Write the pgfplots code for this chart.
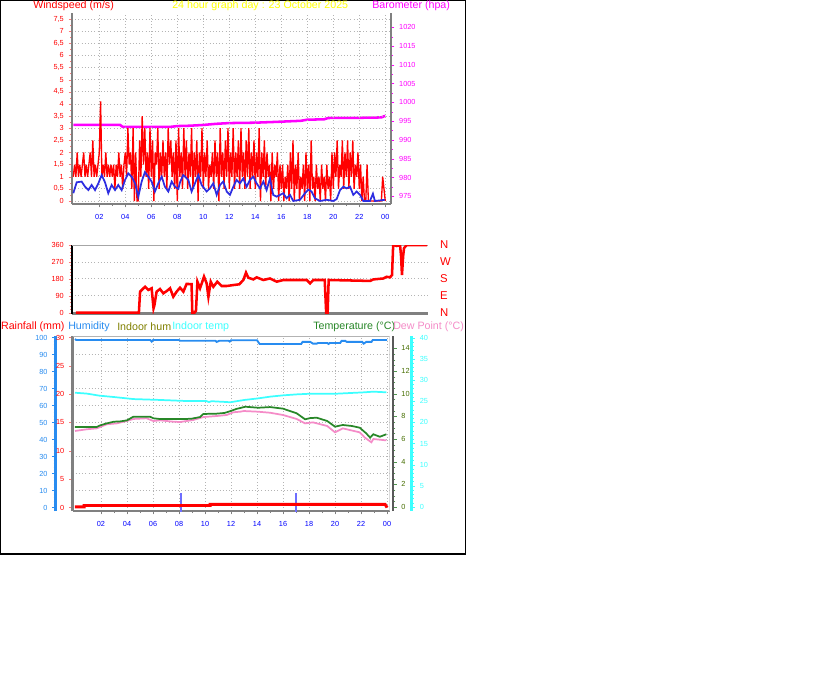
\documentclass[border=0pt]{standalone}
\usepackage{pgfplots}
\pgfplotsset{compat=1.18}
\usepackage{fontspec}
\setmainfont{Liberation Sans}

\definecolor{axgray}{RGB}{128,128,128}
\definecolor{gridgray}{RGB}{180,180,180}
\definecolor{tickpink}{RGB}{255,120,120}
\definecolor{avgblue}{RGB}{45,45,225}
\definecolor{humblue}{RGB}{40,140,240}
\definecolor{inhum}{RGB}{128,128,0}
\definecolor{intemp}{RGB}{60,255,255}
\definecolor{tempgreen}{RGB}{40,135,40}
\definecolor{templab}{RGB}{70,110,0}
\definecolor{dewpink}{RGB}{245,140,200}
\definecolor{rainbar}{RGB}{110,110,255}
\definecolor{tickgreen}{RGB}{80,150,80}
\definecolor{baro}{RGB}{255,0,255}
\definecolor{ttl}{RGB}{255,255,0}
\definecolor{pure red}{RGB}{255,0,0}
\definecolor{pure blue}{RGB}{0,0,255}

\newcommand{\tk}{\fontsize{5.5}{6.6}\selectfont}
\newcommand{\hd}{\fontsize{8}{9.6}\selectfont}
\newcommand{\dr}{\fontsize{8.5}{10}\selectfont}

\pgfplotsset{
  base/.style={scale only axis, anchor=south west,
    tick label style={font=\tk},
    /pgf/number format/assume math mode=true,
    /pgf/number format/1000 sep={},
    tick align=outside, major tick length=2.6pt, minor tick length=1.5pt},
  hours/.style={xtick={2,4,6,8,10,12,14,16,18,20,22,24},
    xticklabels={02,04,06,08,10,12,14,16,18,20,22,00},
    minor x tick num=1,
    xticklabel style={text=pure blue, yshift=-1.5pt},
    xtick style={axgray}},
  dots/.style={major grid style={gridgray, dotted, line width=0.6pt}},
}

\begin{document}
\begin{tikzpicture}
\path[use as bounding box, fill=white] (0,0) rectangle (612pt,-512.25pt);
\draw[black, line width=0.9pt] (0.4pt,-0.4pt) rectangle (349.1pt,-415.5pt);

% titles, top panel
\node[anchor=west, inner sep=0, font=\hd, text=pure red] at (24.75pt,-4.5pt) {Windspeed (m/s)};
\node[anchor=west, inner sep=0, font=\hd, text=ttl] at (129pt,-4.5pt) {24 hour graph day : 23 October 2025};
\node[anchor=west, inner sep=0, font=\hd, text=baro] at (279pt,-4.5pt) {Barometer (hpa)};

% legend row, bottom panel
\node[anchor=west, inner sep=0, font=\hd, text=pure red] at (0.6pt,-245.25pt) {Rainfall (mm)};
\node[anchor=west, inner sep=0, font=\hd, text=humblue] at (51pt,-245.25pt) {Humidity};
\node[anchor=west, inner sep=0, font=\hd, text=inhum] at (87.75pt,-245.25pt) {Indoor hum};
\node[anchor=west, inner sep=0, font=\hd, text=intemp] at (129pt,-245.25pt) {Indoor temp};
\node[anchor=west, inner sep=0, font=\hd, text=tempgreen] at (234.75pt,-245.25pt) {Temperature (°C)};
\node[anchor=west, inner sep=0, font=\hd, text=dewpink] at (294.75pt,-245.25pt) {Dew Point (°C)};

% ---------- barometer
\begin{axis}[base, at={(54pt,-153pt)}, width=239.25pt, height=143.25pt,
  xmin=-0.1, xmax=24.44, ymin=972.95, ymax=1023.8,
  axis x line=none, axis y line*=right,
  y axis line style={axgray, line width=2pt},
  ytick={975,980,985,990,995,1000,1005,1010,1015,1020}, minor y tick num=1,
  yticklabel style={text=baro}, ytick style={baro}]
\addplot[baro, line width=1.9pt] coordinates {
  (0,994.0)(3.6,994.0)(3.8,993.5)(7.5,993.5)(8,993.7)(9,993.8)(10,994.0)(11,994.3)
  (12,994.5)(14,994.6)(15.5,994.8)(16.5,994.95)(17.5,995.1)(18,995.4)(19.3,995.5)
  (19.6,995.85)(22,995.9)(23.7,996.0)(23.9,996.3)(24,996.4)};
\end{axis}

% ---------- windspeed
\begin{axis}[base, hours, dots, at={(54pt,-153pt)}, width=239.25pt, height=143.25pt,
  xmin=-0.1, xmax=24.44, ymin=-0.124, ymax=7.746,
  axis x line*=bottom, axis y line*=left,
  axis line style={axgray, line width=2.2pt},
  ytick={0,0.5,1,1.5,2,2.5,3,3.5,4,4.5,5,5.5,6,6.5,7,7.5}, minor y tick num=1,
  /pgf/number format/use comma,
  yticklabel style={text=pure red}, ytick style={tickpink},
  grid=major]
% gust
\addplot[pure red, line width=1pt, line join=bevel] coordinates {
 (0.0,1.0)(0.1,1.5)(0.2,1.0)(0.3,2.0)(0.4,1.0)(0.5,1.5)(0.6,1.0)(0.7,1.5)(0.8,2.0)(0.9,1.0)
 (1.0,1.5)(1.1,1.0)(1.2,1.5)(1.3,2.0)(1.4,1.0)(1.5,2.5)(1.6,1.0)(1.7,1.5)(1.8,1.0)(1.9,1.5)
 (2.0,2.0)(2.1,4.1)(2.2,1.0)(2.3,1.5)(2.4,1.0)(2.5,2.0)(2.6,1.0)(2.7,1.5)(2.8,1.0)(2.9,1.5)
 (3.0,1.0)(3.1,1.5)(3.2,0.5)(3.3,1.5)(3.4,1.0)(3.5,2.0)(3.6,1.0)(3.7,1.5)(3.8,0.5)(3.9,1.5)
 (4.0,2.0)(4.1,1.0)(4.2,3.0)(4.3,1.5)(4.4,2.0)(4.5,0.5)(4.6,3.0)(4.7,0.0)(4.8,2.0)(4.9,0.0)
 (5.0,0.0)(5.1,2.5)(5.2,1.0)(5.3,3.5)(5.4,1.5)(5.5,3.0)(5.6,1.0)(5.7,2.0)(5.8,0.5)(5.9,3.0)
 (6.0,1.0)(6.1,2.5)(6.2,0.0)(6.3,2.0)(6.4,1.5)(6.5,3.0)(6.6,0.5)(6.7,2.0)(6.8,1.0)(6.9,2.5)
 (7.0,1.0)(7.1,2.0)(7.2,0.5)(7.3,3.0)(7.4,1.5)(7.5,2.5)(7.6,1.0)(7.7,2.0)(7.8,0.5)(7.9,2.5)
 (8.0,0.0)(8.1,3.0)(8.2,1.0)(8.3,2.0)(8.4,0.5)(8.5,3.0)(8.6,1.0)(8.7,2.5)(8.8,0.5)(8.9,2.0)
 (9.0,1.0)(9.1,3.0)(9.2,0.5)(9.3,2.0)(9.4,1.0)(9.5,2.5)(9.6,0.0)(9.7,2.0)(9.8,1.0)(9.9,3.0)
 (10.0,0.5)(10.1,2.0)(10.2,1.0)(10.3,2.5)(10.4,0.5)(10.5,1.5)(10.6,1.0)(10.7,2.0)(10.8,0.5)(10.9,2.5)
 (11.0,1.0)(11.1,2.0)(11.2,0.0)(11.3,3.0)(11.4,1.0)(11.5,2.0)(11.6,0.5)(11.7,2.5)(11.8,1.0)(11.9,3.0)
 (12.0,0.5)(12.1,2.0)(12.2,1.0)(12.3,3.0)(12.4,0.5)(12.5,2.0)(12.6,1.0)(12.7,2.5)(12.8,0.5)(12.9,3.0)
 (13.0,1.0)(13.1,2.0)(13.2,0.5)(13.3,2.5)(13.4,1.0)(13.5,3.0)(13.6,0.5)(13.7,2.0)(13.8,1.0)(13.9,2.5)
 (14.0,0.5)(14.1,2.0)(14.2,1.0)(14.3,3.0)(14.4,0.0)(14.5,2.0)(14.6,1.0)(14.7,2.5)(14.8,0.5)(14.9,2.0)
 (15.0,1.0)(15.1,1.5)(15.2,0.0)(15.3,2.0)(15.4,0.5)(15.5,1.5)(15.6,1.0)(15.7,2.0)(15.8,0.0)(15.9,1.5)
 (16.0,0.5)(16.1,1.5)(16.2,0.0)(16.3,1.0)(16.4,0.5)(16.5,1.5)(16.6,0.0)(16.7,2.0)(16.8,0.5)(16.9,2.5)
 (17.0,0.0)(17.1,1.5)(17.2,0.5)(17.3,2.0)(17.4,0.0)(17.5,1.0)(17.6,0.5)(17.7,1.5)(17.8,0.0)(17.9,2.0)
 (18.0,0.5)(18.1,1.5)(18.2,0.0)(18.3,2.5)(18.4,0.5)(18.5,1.0)(18.6,0.0)(18.7,1.5)(18.8,0.5)(18.9,1.0)
 (19.0,0.0)(19.1,1.5)(19.2,0.5)(19.3,1.0)(19.4,0.0)(19.5,1.5)(19.6,0.5)(19.7,1.0)(19.8,0.0)(19.9,2.0)
 (20.0,0.5)(20.1,2.0)(20.2,1.0)(20.3,2.5)(20.4,0.5)(20.5,1.5)(20.6,1.0)(20.7,2.5)(20.8,0.5)(20.9,2.0)
 (21.0,1.0)(21.1,2.5)(21.2,0.5)(21.3,2.0)(21.4,1.0)(21.5,2.5)(21.6,0.5)(21.7,1.5)(21.8,1.0)(21.9,2.0)
 (22.0,0.5)(22.1,1.5)(22.2,0.0)(22.3,1.0)(22.4,0.0)(22.5,0.0)(22.6,1.5)(22.7,0.0)(22.8,0.0)(22.9,0.0)
 (23.0,0.0)(23.1,0.0)(23.2,0.0)(23.3,0.0)(23.4,0.0)(23.5,0.0)(23.6,0.0)(23.7,0.0)(23.8,1.0)(23.9,0.5)(24.0,0.0)};
% average
\addplot[avgblue, line width=1.3pt] coordinates {
 (0.0,0.32)(0.26,0.77)(0.64,0.80)(0.90,0.59)(1.16,0.45)(1.41,0.66)(1.67,0.45)(1.93,0.73)
 (2.18,1.07)(2.44,0.77)(2.69,0.32)(2.95,0.66)(3.21,0.45)(3.46,0.66)(3.72,0.45)(3.98,0.87)
 (4.23,1.14)(4.49,1.00)(4.75,0.73)(5.0,0.18)(5.26,0.80)(5.51,1.19)(5.77,1.00)(6.03,0.80)
 (6.28,0.39)(6.54,0.73)(6.8,1.00)(7.05,0.59)(7.31,0.39)(7.57,0.80)(7.82,0.59)(8.08,0.5)
 (8.21,0.77)(8.46,1.07)(8.85,0.87)(9.1,0.39)(9.36,0.73)(9.62,1.07)(9.87,0.66)(10.26,0.39)
 (10.51,0.52)(10.77,0.73)(11.03,0.25)(11.29,0.66)(11.54,0.80)(11.8,0.39)(12.05,0.25)
 (12.31,0.59)(12.56,0.87)(12.82,0.73)(13.08,0.93)(13.33,0.59)(13.59,0.87)(13.85,1.00)
 (14.1,0.73)(14.36,0.52)(14.62,0.80)(14.87,0.45)(15.13,0.93)(15.38,0.25)(15.64,0.18)
 (15.9,0.25)(16.15,0.32)(16.41,0.11)(16.67,0.25)(16.92,0.0)(17.44,0.05)(17.82,0.32)
 (18.08,0.47)(18.33,0.39)(18.59,0.11)(18.98,0.0)(19.49,0.05)(20.0,0.0)(20.26,0.08)
 (20.52,0.45)(20.77,0.59)(21.03,0.52)(21.29,0.59)(21.54,0.25)(21.8,0.39)(22.06,0.25)
 (22.31,0.0)(22.82,0.0)(23.05,0.3)(23.2,0.0)(23.98,0.05)};
\end{axis}

% ---------- wind direction
\begin{axis}[base, dots, at={(54pt,-235.125pt)}, width=267pt, height=51.375pt,
  xmin=-0.273, xmax=24.06, ymin=-4.3, ymax=360,
  axis x line*=bottom, axis y line*=left,
  x axis line style={axgray, line width=2.2pt},
  y axis line style={black, line width=2.2pt},
  xtick=\empty,
  ytick={0,90,180,270,360}, minor y tick num=4,
  yticklabel style={text=pure red}, ytick style={tickpink},
  ymajorgrids]
\draw[axgray!70, line width=0.75pt] (rel axis cs:0,1) -- (rel axis cs:1,1);
\addplot[pure red, line width=1.9pt] coordinates {
 (0,0)(4.3,0)(4.38,112)(4.72,138)(4.94,121)(5.17,130)(5.3,23)(5.36,40)(5.51,112)
 (5.74,126)(5.97,103)(6.2,115)(6.43,130)(6.65,85)(6.88,112)(7.11,133)(7.34,112)
 (7.56,153)(7.9,152)(7.95,0)(8.1,0)(8.2,10)(8.3,165)(8.48,130)(8.75,192)(8.93,156)
 (9.05,85)(9.21,165)(9.39,138)(9.66,165)(9.96,142)(10.3,142)(10.75,147)(11.16,151)
 (11.44,174)(11.62,213)(11.78,186)(12.12,177)(12.35,188)(12.8,174)(13.26,182)
 (13.72,165)(14.17,174)(15.77,174)(16.0,156)(16.22,174)(17.0,174)(17.1,0)(17.2,0)
 (17.27,174)(20.1,169)(20.32,177)(21.0,182)(21.23,191)(21.46,188)(21.6,200)
 (21.68,360)(21.92,355)(22.15,360)(22.22,300)(22.28,200)(22.36,300)(22.42,343)
 (22.6,360)(24,360)};
\end{axis}
\begin{axis}[base, at={(54pt,-235.125pt)}, width=267pt, height=51.375pt,
  xmin=-0.273, xmax=24.06, ymin=-4.3, ymax=360,
  axis x line=none, axis y line*=right, y axis line style={draw=none},
  ytick={0,90,180,270,360}, yticklabels={N,E,S,W,N},
  ytick style={draw=none},
  yticklabel style={font=\dr, text=pure red, xshift=3pt}]
\addplot[draw=none] coordinates {(0,0)};
\end{axis}

% ---------- bottom panel: grid
\begin{axis}[base, dots, at={(54.375pt,-383.25pt)}, width=237.75pt, height=131.25pt,
  xmin=-0.192, xmax=24.19, ymin=-2.06, ymax=100.88,
  axis line style={draw=none}, tick style={draw=none},
  xtick={2,4,6,8,10,12,14,16,18,20,22,24}, ytick={10,20,30,40,50,60,70,80,90},
  xticklabels={}, yticklabels={}, grid=major]
\addplot[draw=none] coordinates {(0,0)};
\end{axis}

% humidity
\begin{axis}[base, at={(41.775pt,-383.25pt)}, width=250.35pt, height=131.25pt,
  xmin=-1.485, xmax=24.19, ymin=-2.06, ymax=100.88,
  axis x line=none, axis y line*=left,
  y axis line style={humblue, line width=2.2pt},
  ytick={0,10,20,30,40,50,60,70,80,90,100}, minor y tick num=4,
  yticklabel style={text=humblue}, ytick style={humblue}]
\addplot[humblue, line width=1.4pt] coordinates {
 (0,99.1)(0.1,98.5)(5.8,98.5)(5.9,97.6)(6.0,98.5)(8,98.5)(8.1,98.1)(10.8,98.1)
 (10.9,97.4)(11.1,98.1)(11.8,98.1)(11.9,97.6)(12.0,98.4)(14.0,98.4)(14.2,96.2)
 (17.4,96.2)(17.5,97.4)(18.1,97.4)(18.3,96.4)(18.6,96.4)(18.7,96.8)(19.4,96.8)
 (19.5,96.2)(19.6,96.8)(20.4,96.8)(20.5,98.0)(20.8,98.0)(20.9,97.4)(22.1,97.4)
 (22.2,96.4)(22.4,97.4)(22.8,97.4)(22.9,98.5)(24,98.5)};
\end{axis}

% outside temperature and dew point
\begin{axis}[base, at={(54.375pt,-383.25pt)}, width=240.6pt, height=131.25pt,
  xmin=-0.192, xmax=24.485, ymin=-0.353, ymax=15.09,
  axis x line=none, axis y line*=right,
  y axis line style={black!65, line width=1.5pt},
  ytick={0,2,4,6,8,10,12,14}, minor y tick num=3,
  yticklabel style={text=templab}, ytick style={tickgreen}]
\addplot[dewpink, line width=1.3pt] coordinates {
 (0.0,6.71)(0.9,6.86)(1.67,6.94)(2.44,7.3)(3.2,7.38)(3.97,7.59)(4.49,7.77)(5.51,7.83)
 (6.03,7.59)(6.54,7.65)(7.56,7.53)(8.08,7.5)(9.1,7.68)(9.87,7.94)(10.9,8.03)(11.67,8.12)
 (12.18,8.36)(12.69,8.41)(13,8.47)(14.1,8.41)(15,8.32)(16,8.12)(17.05,7.77)(17.7,7.38)
 (18.3,7.47)(19.4,7.15)(20,6.59)(20.6,6.94)(21.9,6.59)(22.3,6.12)(22.8,5.71)(22.95,6.0)
 (23.95,5.88)};
\addplot[tempgreen, line width=1.3pt] coordinates {
 (0,7.06)(1.67,7.06)(1.92,7.2)(2.44,7.38)(3.0,7.53)(3.46,7.55)(4.0,7.65)(4.49,7.97)
 (5.77,7.97)(6.03,7.83)(6.5,7.77)(8.59,7.77)(9.0,7.8)(9.62,7.94)(9.87,8.21)(10.9,8.24)
 (11.5,8.3)(11.92,8.45)(12.4,8.65)(13.1,8.85)(14.1,8.76)(15,8.82)(16,8.68)(17.05,8.27)
 (17.7,7.74)(18.1,7.85)(18.6,7.88)(19.4,7.59)(20,7.09)(20.6,7.24)(21.3,7.15)(21.9,7.0)
 (22.4,6.5)(22.7,6.12)(22.95,6.42)(23.45,6.2)(23.95,6.42)};
\end{axis}

% indoor temperature
\begin{axis}[base, at={(54.375pt,-383.25pt)}, width=254.4pt, height=131.25pt,
  xmin=-0.192, xmax=25.9, ymin=-0.945, ymax=40.40,
  axis x line=none, axis y line*=right,
  y axis line style={intemp, line width=2.2pt},
  ytick={0,5,10,15,20,25,30,35,40}, minor y tick num=4,
  yticklabel style={text=intemp}, ytick style={intemp}]
\addplot[intemp, line width=1.3pt] coordinates {
 (0,27.0)(0.9,26.8)(1.9,26.3)(2.95,26.0)(4.5,25.5)(6.5,25.3)(8.6,25.04)(10.1,25.04)
 (10.3,24.8)(10.5,25.0)(11.7,24.8)(11.9,24.73)(13.0,25.28)(14.1,25.67)(15.0,26.07)
 (16.0,26.38)(17.05,26.61)(18.1,26.77)(20.1,26.77)(22.2,27.09)(22.95,27.25)(23.95,27.1)};
\end{axis}

% rainfall, time axis
\begin{axis}[base, hours, at={(54.375pt,-383.25pt)}, width=237.75pt, height=131.25pt,
  xmin=-0.192, xmax=24.19, ymin=-0.618, ymax=30.26,
  axis x line*=bottom, axis y line*=left,
  axis line style={axgray, line width=2.2pt},
  ytick={0,5,10,15,20,25,30}, minor y tick num=4,
  yticklabel style={text=pure red}, ytick style={tickpink}]
\draw[axgray!60, line width=1.5pt] (rel axis cs:0,1) -- (rel axis cs:1,1);
\draw[axgray!40, line width=0.75pt] (rel axis cs:1,0) -- (rel axis cs:1,1);
\addplot[rainbar, line width=1.5pt] coordinates {(8.13,-1) (8.13,2.6)};
\addplot[rainbar, line width=1.5pt] coordinates {(16.98,-1) (16.98,2.6)};
\addplot[pure red, line width=2.2pt] coordinates {
 (0,0.1)(0.7,0.1)(0.7,0.35)(10.4,0.35)(10.4,0.55)(23.85,0.55)(24,0.0)};
\end{axis}
\end{tikzpicture}
\end{document}
